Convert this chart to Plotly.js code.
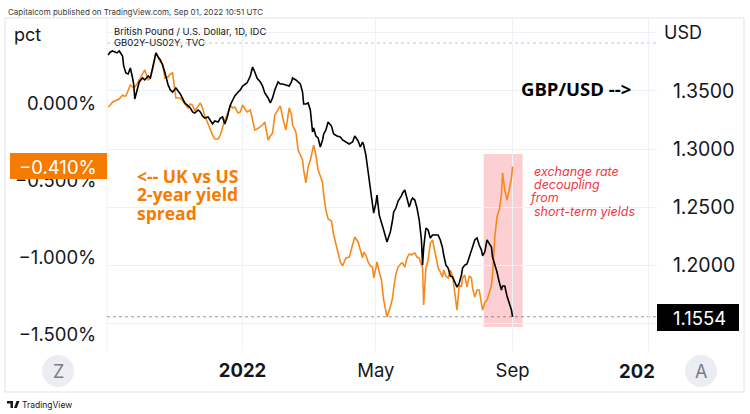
<!DOCTYPE html>
<html><head><meta charset="utf-8">
<script src="https://cdn.plot.ly/plotly-3.0.1.min.js"></script>
<style>html,body{margin:0;padding:0;background:#fff}#chart{width:750px;height:414px}</style>
</head><body><div id="chart"></div>
<script>
// ---- data ----
const dates = [
'2021-09-02','2021-09-04','2021-09-06','2021-09-10','2021-09-12','2021-09-15','2021-09-16','2021-09-18','2021-09-20','2021-09-22',
'2021-09-24','2021-09-25','2021-09-26','2021-09-28','2021-09-30','2021-10-03','2021-10-05','2021-10-08','2021-10-10','2021-10-12',
'2021-10-15','2021-10-17','2021-10-19','2021-10-21','2021-10-23','2021-10-26','2021-10-28','2021-10-30','2021-11-02','2021-11-06',
'2021-11-10','2021-11-13','2021-11-15','2021-11-17','2021-11-19','2021-11-22','2021-11-24','2021-11-26','2021-11-28','2021-12-01',
'2021-12-03','2021-12-05','2021-12-07','2021-12-10','2021-12-12','2021-12-14','2021-12-16','2021-12-18','2021-12-21','2021-12-23',
'2021-12-25','2021-12-28','2021-12-30','2022-01-01','2022-01-05','2022-01-08','2022-01-10','2022-01-12','2022-01-14','2022-01-17',
'2022-01-19','2022-01-21','2022-01-24','2022-01-26','2022-01-28','2022-01-30','2022-02-02','2022-02-04','2022-02-06','2022-02-09',
'2022-02-12','2022-02-14','2022-02-15','2022-02-18','2022-02-20','2022-02-22','2022-02-24','2022-02-25','2022-02-27','2022-03-01',
'2022-03-03','2022-03-05','2022-03-06','2022-03-08','2022-03-10','2022-03-12','2022-03-14','2022-03-15','2022-03-17','2022-03-19',
'2022-03-22','2022-03-24','2022-03-27','2022-03-30','2022-04-01','2022-04-04','2022-04-07','2022-04-10','2022-04-12','2022-04-15',
'2022-04-17','2022-04-19','2022-04-20','2022-04-22','2022-04-24','2022-04-26','2022-04-28','2022-04-29','2022-05-01','2022-05-02',
'2022-05-04','2022-05-06','2022-05-08','2022-05-11','2022-05-14','2022-05-16','2022-05-17','2022-05-19','2022-05-21','2022-05-24',
'2022-05-25','2022-05-27','2022-05-29','2022-05-31','2022-06-02','2022-06-03','2022-06-05','2022-06-07','2022-06-09','2022-06-11',
'2022-06-12','2022-06-13','2022-06-15','2022-06-17','2022-06-19','2022-06-21','2022-06-23','2022-06-26','2022-06-28','2022-06-30',
'2022-07-01','2022-07-03','2022-07-05','2022-07-07','2022-07-09','2022-07-10','2022-07-13','2022-07-15','2022-07-17','2022-07-18',
'2022-07-20','2022-07-22','2022-07-24','2022-07-26','2022-07-27','2022-07-29','2022-07-31','2022-08-02','2022-08-04','2022-08-05',
'2022-08-07','2022-08-09','2022-08-11','2022-08-13','2022-08-14','2022-08-16','2022-08-18','2022-08-20','2022-08-22','2022-08-23',
'2022-08-25','2022-08-27','2022-08-29','2022-08-31','2022-09-01'];

const gbpusd = [
1.3810,1.3836,1.3845,1.3828,1.3845,1.3802,1.3716,1.3655,1.3647,1.3698,
1.3612,1.3560,1.3431,1.3509,1.3578,1.3612,1.3595,1.3629,1.3612,1.3698,
1.3828,1.3793,1.3767,1.3724,1.3664,1.3552,1.3509,1.3491,1.3526,1.3474,
1.3397,1.3371,1.3353,1.3319,1.3310,1.3336,1.3319,1.3284,1.3267,1.3276,
1.3241,1.3216,1.3241,1.3233,1.3267,1.3276,1.3216,1.3267,1.3379,1.3422,
1.3457,1.3491,1.3509,1.3543,1.3569,1.3629,1.3707,1.3664,1.3612,1.3578,
1.3543,1.3483,1.3440,1.3397,1.3440,1.3509,1.3578,1.3560,1.3560,1.3552,
1.3543,1.3578,1.3612,1.3595,1.3578,1.3560,1.3491,1.3388,1.3388,1.3397,
1.3336,1.3147,1.3181,1.3112,1.3095,1.3017,1.3078,1.3129,1.3164,1.3233,
1.3198,1.3129,1.3112,1.3103,1.3078,1.3060,1.3043,1.3060,1.3112,1.3069,
1.3017,1.3060,1.3034,1.2948,1.2802,1.2647,1.2517,1.2448,1.2534,1.2603,
1.2431,1.2371,1.2302,1.2198,1.2284,1.2388,1.2457,1.2491,1.2552,1.2595,
1.2621,1.2647,1.2578,1.2500,1.2560,1.2578,1.2560,1.2491,1.2388,1.2216,
1.2000,1.2147,1.2319,1.2302,1.2233,1.2259,1.2259,1.2259,1.2216,1.2147,
1.2086,1.2000,1.1974,1.1905,1.1897,1.1871,1.1810,1.1845,1.1914,1.1974,
1.2000,1.2009,1.2060,1.2129,1.2155,1.2216,1.2233,1.2172,1.2129,1.2078,
1.2112,1.2216,1.2190,1.2155,1.2069,1.2009,1.1940,1.1853,1.1784,1.1819,
1.1819,1.1733,1.1672,1.1612,1.1554];

const spread = [
-0.023,-0.010,0.010,0.023,0.029,0.055,0.049,0.049,0.081,0.120,
0.107,0.107,0.107,0.127,0.153,0.185,0.218,0.153,0.166,0.218,
0.328,0.302,0.270,0.257,0.166,0.172,0.192,0.198,0.036,0.036,
-0.003,-0.029,-0.003,-0.010,-0.049,-0.016,0.003,-0.029,-0.081,-0.133,
-0.172,-0.205,-0.231,-0.231,-0.205,-0.146,-0.107,-0.075,-0.010,-0.029,
-0.023,-0.062,-0.055,-0.010,-0.055,-0.042,-0.120,-0.172,-0.166,-0.153,
-0.140,-0.120,-0.237,-0.211,-0.192,-0.075,-0.036,-0.016,-0.088,-0.172,
-0.029,-0.075,-0.140,-0.185,-0.302,-0.334,-0.367,-0.432,-0.516,-0.412,
-0.367,-0.302,-0.270,-0.334,-0.432,-0.471,-0.516,-0.594,-0.692,-0.750,
-0.763,-0.854,-0.951,-1.029,-1.055,-1.003,-0.997,-0.919,-0.867,-0.899,
-0.951,-1.003,-0.964,-0.984,-1.029,-1.055,-1.062,-1.133,-1.068,-1.029,
-1.094,-1.146,-1.276,-1.386,-1.321,-1.263,-1.198,-1.107,-1.062,-1.036,
-1.036,-1.062,-1.003,-0.977,-0.984,-0.977,-0.971,-0.997,-1.003,-1.049,
-1.068,-1.308,-1.068,-1.016,-0.906,-0.886,-0.951,-1.068,-1.094,-1.127,
-1.081,-1.120,-1.133,-1.081,-1.120,-1.179,-1.341,-1.179,-1.185,-1.133,
-1.114,-1.192,-1.120,-1.133,-1.198,-1.256,-1.211,-1.211,-1.308,-1.341,
-1.295,-1.276,-1.231,-1.179,-1.114,-0.867,-0.737,-0.692,-0.594,-0.451,
-0.562,-0.627,-0.562,-0.484,-0.410];

const xTickVals = ['2022-01-01','2022-05-01','2022-09-01','2023-01-01'];
const xTickText = ['<b>2022</b>','May','Sep',''];
const xClippedLabel = '<b>202</b>';
const leftTickVals = [0, -0.5, -1, -1.5];
const leftTickText = ['0.000%', '\u22120.500%', '\u22121.000%', '\u22121.500%'];
const rightTickVals = [1.15, 1.20, 1.25, 1.30, 1.35, 1.40];
const rightTickText = ['', '1.2000', '1.2500', '1.3000', '1.3500', ''];
const lastSpreadText = '\u22120.410%';
const lastPrice = 1.1554;
const lastPriceText = '1.1554';
const highlightRange = ['2022-08-06', '2022-09-10'];
const highlightY = [1.1466, 1.2957];

const headerText = 'Capitalcom published on TradingView.com, Sep 01, 2022 10:51 UTC';
const leftUnit = 'pct', rightUnit = 'USD';
const legendLines = ['British Pound / U.S. Dollar, 1D, IDC', 'GB02Y-US02Y, TVC'];
const pairLabel = '<b>GBP/USD --&gt;</b>';
const spreadLabel = ['&lt;-- UK vs US', '2-year yield', 'spread'];
const noteLines = ['exchange rate', 'decoupling', 'from', 'short-term yields'];

// ---- styling / placement ----
const L = 107, R = 657, T = 18, B = 351;
const px = x => (x - L) / (R - L);
const py = y => (B - y) / (B - T);
const ORANGE_LINE = '#f7891c', ORANGE = '#f57c00', RED = '#f23645', INK = '#131722';
const GRID = '#eef1f7', BORDER = '#e0e3eb';
const FONT = 'Inter, "Noto Sans", Roboto, sans-serif';
const FONT_NOLIG = '"Open Sans", Roboto, sans-serif';
const noteX = [533, 533, 527.5, 533];

const traces = [
  {x: dates, y: spread, yaxis: 'y', type: 'scatter', mode: 'lines',
   line: {color: ORANGE_LINE, width: 1.6}, hoverinfo: 'skip'},
  {x: dates, y: gbpusd, yaxis: 'y2', type: 'scatter', mode: 'lines',
   line: {color: '#000000', width: 1.6}, hoverinfo: 'skip'}
];

const shapes = [
  {type:'rect', xref:'paper', yref:'paper', x0:px(5), x1:px(744), y0:py(392), y1:py(18),
   line:{color:BORDER, width:1}, fillcolor:'rgba(0,0,0,0)', layer:'below'},
  {type:'line', xref:'paper', yref:'paper', x0:0, x1:0, y0:0, y1:1, line:{color:GRID, width:1}, layer:'below'},
  {type:'rect', xref:'x', yref:'y2', x0:highlightRange[0], x1:highlightRange[1], y0:highlightY[0], y1:highlightY[1],
   fillcolor:'rgba(242,54,69,0.24)', line:{width:0}, layer:'below'},
  {type:'line', xref:'paper', yref:'paper', x0:0, x1:1, y0:py(43), y1:py(43),
   line:{color:'#c3c6ce', width:1, dash:'dot'}, layer:'below'},
  {type:'line', xref:'paper', yref:'y2', x0:0, x1:1, y0:lastPrice, y1:lastPrice,
   line:{color:'#9598a1', width:1, dash:'dot'}, layer:'below'},
  {type:'rect', xref:'paper', yref:'paper', x0:px(10), x1:px(107), y0:py(179), y1:py(153),
   fillcolor:ORANGE, line:{width:0}, layer:'above'},
  {type:'rect', xref:'paper', yref:'paper', x0:px(657), x1:px(739), y0:py(331), y1:py(304),
   fillcolor:'#000000', line:{width:0}, layer:'above'},
  {type:'circle', xref:'paper', yref:'paper', x0:px(42), x1:px(74), y0:py(387), y1:py(355),
   fillcolor:'#ebedf2', line:{width:0}, layer:'above'},
  {type:'circle', xref:'paper', yref:'paper', x0:px(685), x1:px(717), y0:py(387), y1:py(355),
   fillcolor:'#ebedf2', line:{width:0}, layer:'above'},
  {type:'path', xref:'paper', yref:'paper', layer:'above', fillcolor:INK, line:{width:0},
   path:`M ${px(7)} ${py(401)} L ${px(13)} ${py(401)} L ${px(13)} ${py(408)} L ${px(10.5)} ${py(408)} L ${px(10.5)} ${py(403.5)} L ${px(7)} ${py(403.5)} Z`},
  {type:'path', xref:'paper', yref:'paper', layer:'above', fillcolor:INK, line:{width:0},
   path:`M ${px(16.5)} ${py(401)} L ${px(19.5)} ${py(401)} L ${px(16.8)} ${py(408)} L ${px(14)} ${py(408)} Z`}
];

const ann = (x, y, text, opts) => Object.assign({xref:'paper', yref:'paper', x:px(x), y:py(y), text,
  showarrow:false, xanchor:'left', yanchor:'middle', align:'left', borderpad:0,
  font:{family:FONT, size:11, color:INK}}, opts || {});

const annotations = [
  ann(7, 12, headerText, {font:{family:FONT, size:8, color:'#3b3b3b'}}),
  ann(13, 35, leftUnit, {font:{family:FONT, size:18, color:INK}}),
  ann(663, 33, rightUnit, {font:{family:FONT, size:18, color:INK}}),
  ann(113, 31, legendLines[0], {font:{family:FONT, size:9.5, color:INK}}),
  ann(113, 42, legendLines[1], {font:{family:FONT, size:9.5, color:INK}}),
  ann(520, 88, pairLabel, {font:{family:FONT_NOLIG, size:18.5, color:'#000000'}}),
  ann(58, 166.5, lastSpreadText, {xanchor:'center', align:'center', font:{family:FONT, size:18.5, color:'#ffffff'}}),
  ann(699, 318, lastPriceText, {xanchor:'center', align:'center', font:{family:FONT, size:18.5, color:'#ffffff'}}),
  ann(58, 371, 'Z', {xanchor:'center', align:'center', font:{family:FONT, size:18, color:'#787b86'}}),
  ann(701, 371, 'A', {xanchor:'center', align:'center', font:{family:FONT, size:18, color:'#787b86'}}),
  ann(656, 371, xClippedLabel, {xanchor:'right', font:{family:FONT, size:18.5, color:INK}}),
  ann(21, 404.5, 'TradingView', {font:{family:FONT, size:8.5, color:INK}})
];
spreadLabel.forEach((t, i) => annotations.push(
  ann(136, 176 + i * 18.3, '<b>' + t + '</b>', {font:{family:FONT_NOLIG, size:17.5, color:ORANGE}})));
noteLines.forEach((t, i) => annotations.push(
  ann(noteX[i], 171 + i * 13.4, '<i>' + t + '</i>', {font:{family:FONT, size:12.5, color:RED}})));

const layout = {
  width:750, height:414,
  margin:{l:L, r:750 - R, t:T, b:414 - B, pad:0},
  paper_bgcolor:'#ffffff', plot_bgcolor:'#ffffff',
  showlegend:false,
  font:{family:FONT, color:INK, size:18},
  xaxis:{type:'date', range:['2021-09-01','2023-01-09'], tickvals:xTickVals, ticktext:xTickText,
    showgrid:true, gridcolor:GRID, gridwidth:1, zeroline:false, showline:false,
    ticks:'outside', ticklen:3, tickcolor:'rgba(0,0,0,0)', tickfont:{family:FONT, size:18.5, color:INK}},
  yaxis:{range:[-1.607, 0.555], tickvals:leftTickVals, ticktext:leftTickText,
    showgrid:false, zeroline:false, showline:false,
    ticks:'outside', ticklen:6, tickcolor:'rgba(0,0,0,0)', tickfont:{family:FONT, size:18.5, color:INK}},
  yaxis2:{overlaying:'y', side:'right', range:[1.1259, 1.4129], tickvals:rightTickVals, ticktext:rightTickText,
    showgrid:true, gridcolor:GRID, gridwidth:1, zeroline:false, showline:false,
    ticks:'outside', ticklen:11, tickcolor:'rgba(0,0,0,0)', tickfont:{family:FONT, size:19.5, color:INK}},
  shapes, annotations
};

Plotly.newPlot('chart', traces, layout, {displayModeBar:false, staticPlot:true});
</script>
</body></html>
